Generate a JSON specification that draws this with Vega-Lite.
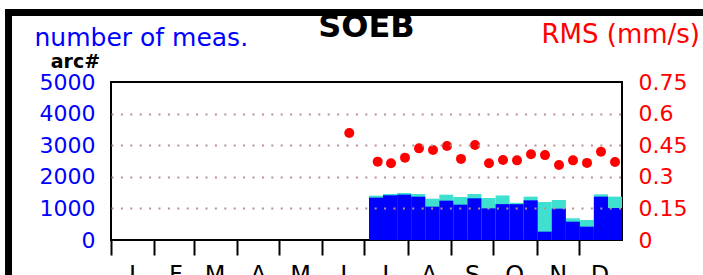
{
  "$schema": "https://vega.github.io/schema/vega-lite/v6.json",
  "width": 511,
  "height": 158,
  "autosize": {"type": "none"},
  "padding": {"left": 111, "top": 82, "right": 81, "bottom": 35},
  "background": "white",
  "config": {
    "view": {"stroke": "black", "strokeWidth": 2},
    "font": "DejaVu Sans",
    "axis": {"labelFont": "DejaVu Sans", "titleFont": "DejaVu Sans"}
  },
  "title": {
    "text": "SOEB",
    "font": "DejaVu Sans",
    "fontSize": 32,
    "fontWeight": "bold",
    "color": "black",
    "anchor": "middle",
    "frame": "group",
    "offset": 0,
    "dy": 35
  },
  "datasets": {
    "dekads": [
      {"start": 164.2, "end": 174.3, "mid": 170.2, "total": 0, "meas": 0, "rms": 0.508},
      {"start": 184.3, "end": 194.3, "mid": 190.5, "total": 1403, "meas": 1340, "rms": 0.372},
      {"start": 194.3, "end": 204.4, "mid": 200, "total": 1456, "meas": 1414, "rms": 0.364},
      {"start": 204.4, "end": 214.4, "mid": 210, "total": 1488, "meas": 1435, "rms": 0.391},
      {"start": 214.4, "end": 224.5, "mid": 220, "total": 1456, "meas": 1372, "rms": 0.435},
      {"start": 224.5, "end": 234.5, "mid": 230, "total": 1308, "meas": 1055, "rms": 0.427},
      {"start": 234.5, "end": 244.5, "mid": 240, "total": 1435, "meas": 1245, "rms": 0.446},
      {"start": 244.5, "end": 254.6, "mid": 250, "total": 1361, "meas": 1118, "rms": 0.385},
      {"start": 254.6, "end": 264.6, "mid": 260, "total": 1456, "meas": 1319, "rms": 0.451},
      {"start": 264.6, "end": 274.7, "mid": 270, "total": 1329, "meas": 1002, "rms": 0.364},
      {"start": 274.7, "end": 284.7, "mid": 280, "total": 1410, "meas": 1135, "rms": 0.380},
      {"start": 284.7, "end": 294.7, "mid": 290, "total": 1175, "meas": 1133, "rms": 0.378},
      {"start": 294.7, "end": 304.8, "mid": 300, "total": 1372, "meas": 1255, "rms": 0.407},
      {"start": 304.8, "end": 314.8, "mid": 310, "total": 1203, "meas": 264, "rms": 0.403},
      {"start": 314.8, "end": 324.9, "mid": 320, "total": 1266, "meas": 992, "rms": 0.356},
      {"start": 324.9, "end": 334.9, "mid": 330, "total": 686, "meas": 580, "rms": 0.378},
      {"start": 334.9, "end": 344.9, "mid": 340, "total": 633, "meas": 422, "rms": 0.366},
      {"start": 344.9, "end": 355.0, "mid": 350, "total": 1445, "meas": 1372, "rms": 0.419},
      {"start": 355.0, "end": 365.0, "mid": 360, "total": 1372, "meas": 1013, "rms": 0.370}
    ]
  },
  "layer": [
    {
      "layer": [
        {
          "data": {"name": "dekads"},
          "mark": {"type": "rect", "color": "#40e0d0", "strokeWidth": 0},
          "encoding": {
            "x": {
              "field": "start",
              "type": "quantitative",
              "scale": {"domain": [0, 365], "nice": false, "zero": false},
              "axis": {
                "orient": "bottom",
                "values": [0, 31, 59, 90, 120, 151, 181, 212, 243, 273, 304, 334],
                "labelExpr": "['J','F','M','A','M','J','J','A','S','O','N','D'][indexof([0,31,59,90,120,151,181,212,243,273,304,334], datum.value)]",
                "labelOffset": 21,
                "labelFontSize": 24,
                "labelColor": "black",
                "labelPadding": 8,
                "labelFlush": false,
                "labelOverlap": false,
                "labelBound": false,
                "ticks": true,
                "tickColor": "black",
                "tickWidth": 2,
                "tickSize": 15,
                "domain": false,
                "grid": false,
                "title": null,
                "zindex": 1
              }
            },
            "x2": {"field": "end"},
            "y": {
              "field": "total",
              "type": "quantitative",
              "scale": {"domain": [0, 5000], "nice": false, "zero": true},
              "axis": {
                "orient": "left",
                "values": [0, 1000, 2000, 3000, 4000, 5000],
                "tickCount": 6,
                "format": "d",
                "labelColor": "#0000ff",
                "labelFontSize": 22,
                "labelPadding": 16,
                "labelFlush": false,
                "labelOverlap": false,
                "labelBound": false,
                "ticks": false,
                "tickSize": 0,
                "domain": false,
                "grid": true,
                "gridColor": {"condition": {"test": "datum.value === 0 || datum.value === 5000", "value": "transparent"}, "value": "#bc8f8f"},
                "gridDash": [2, 7.4],
                "gridWidth": 2,
                "title": "number of meas.",
                "titleColor": "#0000ff",
                "titleFontSize": 25,
                "titleFontWeight": "normal",
                "titleAngle": 0,
                "titleAlign": "left",
                "titleBaseline": "alphabetic",
                "titleX": -77,
                "titleY": -37,
                "zindex": 1
              }
            },
            "y2": {"datum": 0}
          }
        },
        {
          "data": {"name": "dekads"},
          "mark": {"type": "rect", "color": "#0000ff", "strokeWidth": 0},
          "encoding": {
            "x": {"field": "start", "type": "quantitative"},
            "x2": {"field": "end"},
            "y": {"field": "meas", "type": "quantitative", "axis": {"values": [0, 1000, 2000, 3000, 4000, 5000], "tickCount": 6}},
            "y2": {"datum": 0}
          }
        },
        {
          "data": {"values": [{"label": "arc#"}]},
          "mark": {"type": "text", "font": "DejaVu Sans", "fontSize": 19, "fontWeight": "bold", "color": "black", "align": "center", "baseline": "alphabetic"},
          "encoding": {
            "x": {"datum": -25.4, "type": "quantitative"},
            "y": {"datum": 5430, "type": "quantitative", "axis": {"values": [0, 1000, 2000, 3000, 4000, 5000], "tickCount": 6}},
            "text": {"field": "label"}
          }
        },
        {
          "data": {"values": [{"part": "left"}]},
          "mark": {"type": "rect", "color": "black"},
          "encoding": {
            "x": {"datum": -75.7, "type": "quantitative"},
            "x2": {"datum": -70.7},
            "y": {"datum": 7310, "type": "quantitative", "axis": {"values": [0, 1000, 2000, 3000, 4000, 5000], "tickCount": 6}},
            "y2": {"datum": -1300}
          }
        },
        {
          "data": {"values": [{"part": "top"}]},
          "mark": {"type": "rect", "color": "black"},
          "encoding": {
            "x": {"datum": -75.7, "type": "quantitative"},
            "x2": {"datum": 430},
            "y": {"datum": 7310, "type": "quantitative", "axis": {"values": [0, 1000, 2000, 3000, 4000, 5000], "tickCount": 6}},
            "y2": {"datum": 7089}
          }
        }
      ]
    },
    {
      "data": {"name": "dekads"},
      "mark": {"type": "circle", "color": "#ff0000", "size": 100, "opacity": 1},
      "encoding": {
        "x": {"field": "mid", "type": "quantitative"},
        "y": {
          "field": "rms",
          "type": "quantitative",
          "scale": {"domain": [0, 0.75], "nice": false, "zero": true},
          "axis": {
            "orient": "right",
            "values": [0, 0.15, 0.3, 0.45, 0.6, 0.75],
            "labelExpr": "format(datum.value, '.2~f')",
            "labelColor": "#ff0000",
            "labelFontSize": 22,
            "labelPadding": 16,
            "labelFlush": false,
            "labelOverlap": false,
            "labelBound": false,
            "ticks": false,
            "tickSize": 0,
            "domain": false,
            "grid": false,
            "title": "RMS (mm/s)",
            "titleColor": "#ff0000",
            "titleFontSize": 26,
            "titleFontWeight": "normal",
            "titleAngle": 0,
            "titleAlign": "left",
            "titleBaseline": "alphabetic",
            "titleX": -81,
            "titleY": -40,
            "zindex": 1
          }
        }
      }
    }
  ],
  "resolve": {"scale": {"y": "independent"}}
}
